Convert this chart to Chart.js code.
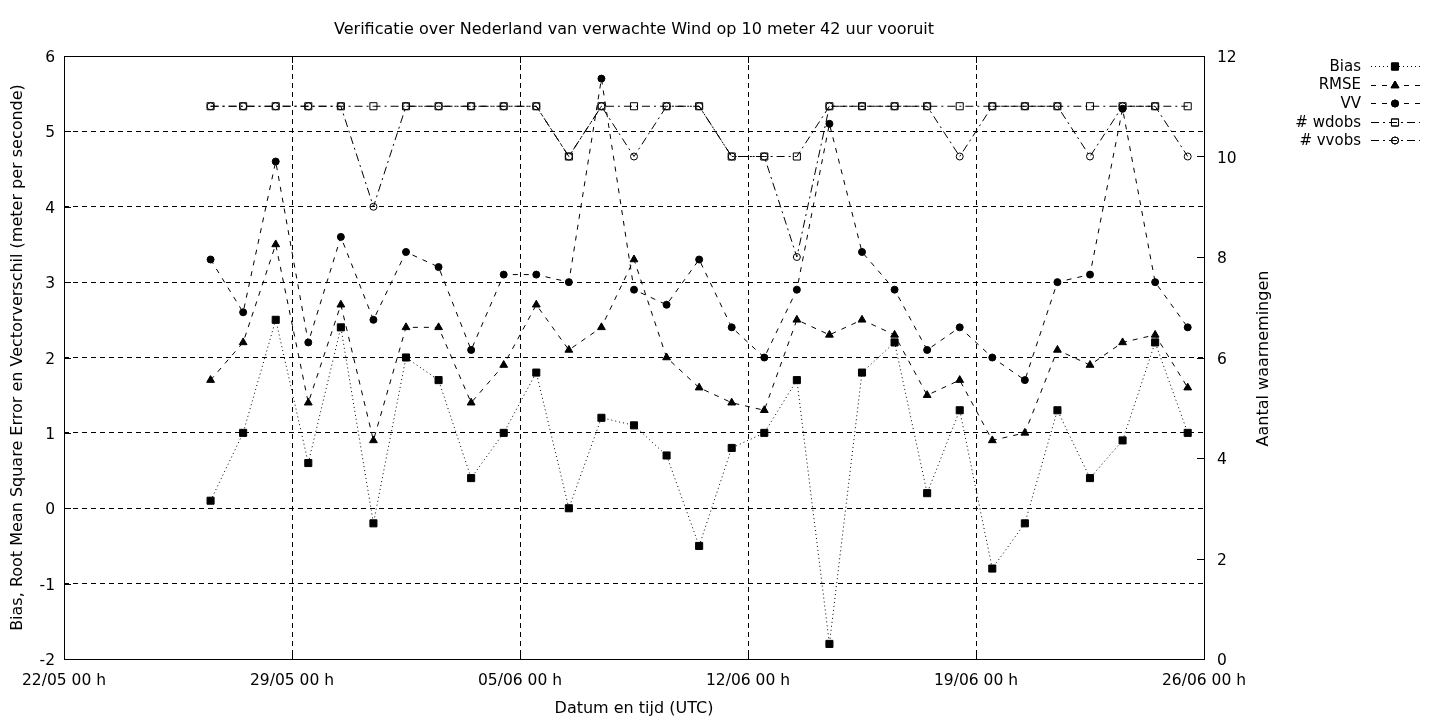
<!DOCTYPE html>
<html>
<head>
<meta charset="utf-8">
<script src="https://cdn.jsdelivr.net/npm/chart.js@4.4.0/dist/chart.umd.min.js"></script>
<style>
  html, body { margin: 0; padding: 0; background: #fff; }
</style>
</head>
<body>
<canvas id="windChart" width="1440" height="720"></canvas>
<script>
// meetmomenten (dd/mm uu), steeds 12 UTC
const times = ['26/05 12', '27/05 12', '28/05 12', '29/05 12', '30/05 12', '31/05 12',
  '01/06 12', '02/06 12', '03/06 12', '04/06 12', '05/06 12', '06/06 12', '07/06 12',
  '08/06 12', '09/06 12', '10/06 12', '11/06 12', '12/06 12', '13/06 12', '14/06 12',
  '15/06 12', '16/06 12', '17/06 12', '18/06 12', '19/06 12', '20/06 12', '21/06 12',
  '22/06 12', '23/06 12', '24/06 12', '25/06 12'];

const bias = [0.1, 1.0, 2.5, 0.6, 2.4, -0.2, 2.0, 1.7, 0.4, 1.0, 1.8, 0.0, 1.2, 1.1, 0.7, -0.5,
  0.8, 1.0, 1.7, -1.8, 1.8, 2.2, 0.2, 1.3, -0.8, -0.2, 1.3, 0.4, 0.9, 2.2, 1.0];
const rmse = [1.7, 2.2, 3.5, 1.4, 2.7, 0.9, 2.4, 2.4, 1.4, 1.9, 2.7, 2.1, 2.4, 3.3, 2.0, 1.6,
  1.4, 1.3, 2.5, 2.3, 2.5, 2.3, 1.5, 1.7, 0.9, 1.0, 2.1, 1.9, 2.2, 2.3, 1.6];
const vv = [3.3, 2.6, 4.6, 2.2, 3.6, 2.5, 3.4, 3.2, 2.1, 3.1, 3.1, 3.0, 5.7, 2.9, 2.7, 3.3,
  2.4, 2.0, 2.9, 5.1, 3.4, 2.9, 2.1, 2.4, 2.0, 1.7, 3.0, 3.1, 5.3, 3.0, 2.4];
const wdobs = [11, 11, 11, 11, 11, 11, 11, 11, 11, 11, 11, 10, 11, 11, 11, 11,
  10, 10, 10, 11, 11, 11, 11, 11, 11, 11, 11, 11, 11, 11, 11];
const vvobs = [11, 11, 11, 11, 11, 9, 11, 11, 11, 11, 11, 10, 11, 10, 11, 11,
  10, 10, 8, 11, 11, 11, 11, 10, 11, 11, 11, 10, 11, 11, 10];

const tickLabels = ['22/05 00 h', '29/05 00 h', '05/06 00 h', '12/06 00 h', '19/06 00 h', '26/06 00 h'];
const startTime = '22/05 00';

const FONT = 'DejaVu Sans';
const YEAR = 2000;

function toDate(s) {
  let d = parseInt(s.substr(0, 2)), m = parseInt(s.substr(3, 2)), h = parseInt(s.substr(6, 2));
  return Date.UTC(YEAR, m - 1, d, h);
}
// uren sinds begin van de x-as
function hours(s) {
  return (toDate(s) - toDate(startTime)) / 3600000;
}
const xMax = (tickLabels.length - 1) * 168;

function series(vals) {
  return vals.map((v, i) => ({ x: hours(times[i]), y: v }));
}

const edgeGrid = (lo, hi) => (ctx) => {
  let v = ctx.tick ? ctx.tick.value : null;
  return (v === lo || v === hi) ? 'rgba(0,0,0,0)' : '#000';
};

const boxAndText = {
  id: 'boxAndText',
  beforeDatasetsDraw(chart) {
    const { ctx, chartArea: a, scales } = chart;
    ctx.save();
    ctx.strokeStyle = '#000';
    ctx.lineWidth = 1;
    ctx.setLineDash([]);
    ctx.strokeRect(a.left + 0.5, a.top + 0.5, a.right - a.left, a.bottom - a.top);
    // tick marks naar binnen
    const tl = 7;
    ctx.beginPath();
    scales.y.ticks.forEach(t => {
      let p = Math.round(scales.y.getPixelForValue(t.value)) + 0.5;
      ctx.moveTo(a.left, p); ctx.lineTo(a.left + tl, p);
    });
    scales.y2.ticks.forEach(t => {
      let p = Math.round(scales.y2.getPixelForValue(t.value)) + 0.5;
      ctx.moveTo(a.right, p); ctx.lineTo(a.right - tl, p);
    });
    scales.x.ticks.forEach(t => {
      let p = Math.round(scales.x.getPixelForValue(t.value)) + 0.5;
      ctx.moveTo(p, a.bottom); ctx.lineTo(p, a.bottom - tl);
      ctx.moveTo(p, a.top); ctx.lineTo(p, a.top + tl);
    });
    ctx.stroke();
    ctx.restore();
  },
  afterDraw(chart) {
    const { ctx, chartArea: a } = chart;
    ctx.save();
    ctx.fillStyle = '#000';
    ctx.font = '16px "' + FONT + '"';
    ctx.textBaseline = 'middle';
    ctx.textAlign = 'center';
    ctx.fillText('Verificatie over Nederland van verwachte Wind op 10 meter 42 uur vooruit', (a.left + a.right) / 2, 30);

    ctx.save();
    ctx.translate(1264, (a.top + a.bottom) / 2 + 1);
    ctx.rotate(-Math.PI / 2);
    ctx.fillText('Aantal waarnemingen', 0, 0);
    ctx.restore();

    // legenda
    ctx.font = '15px "' + FONT + '"';
    chart.data.datasets.forEach((ds, i) => {
      let y = 66 + i * 18.6;
      ctx.textAlign = 'right';
      ctx.fillStyle = '#000';
      ctx.fillText(ds.label, 1361, y + 1);
      ctx.beginPath();
      ctx.setLineDash(ds.borderDash);
      ctx.lineWidth = 1;
      ctx.strokeStyle = '#000';
      ctx.moveTo(1371, Math.round(y) + 0.5);
      ctx.lineTo(1420, Math.round(y) + 0.5);
      ctx.stroke();
      ctx.setLineDash([]);
      ctx.fillStyle = ds.pointBackgroundColor;
      Chart.helpers.drawPoint(ctx, {
        pointStyle: ds.pointStyle, radius: ds.pointRadius, rotation: 0, borderWidth: 1
      }, 1395, Math.round(y) + 0.5);
      ctx.fill();
      ctx.stroke();
    });
    ctx.restore();
  }
};

function line(label, vals, dash, style, radius, filled, axis) {
  return {
    label: label,
    data: series(vals),
    yAxisID: axis,
    borderColor: '#000',
    borderWidth: 1,
    borderDash: dash,
    tension: 0,
    fill: false,
    pointStyle: style,
    pointRadius: radius,
    pointHoverRadius: radius,
    pointBorderWidth: 1,
    pointBorderColor: '#000',
    pointBackgroundColor: filled ? '#000' : 'rgba(0,0,0,0)'
  };
}

new Chart(document.getElementById('windChart'), {
  type: 'line',
  data: {
    datasets: [
      line('Bias', bias, [1, 3], 'rect', 5, true, 'y'),
      line('RMSE', rmse, [5, 6], 'triangle', 4.5, true, 'y'),
      line('VV', vv, [5, 6], 'circle', 3.5, true, 'y'),
      line('# wdobs', wdobs, [8, 4, 2, 4], 'rect', 5, false, 'y2'),
      line('# vvobs', vvobs, [8, 4, 2, 4], 'circle', 3.5, false, 'y2')
    ]
  },
  options: {
    responsive: false,
    animation: false,
    devicePixelRatio: 1,
    layout: { padding: { top: 56, left: 0, right: 0, bottom: 0 } },
    plugins: {
      legend: { display: false },
      tooltip: { enabled: false },
      title: { display: false }
    },
    scales: {
      x: {
        type: 'linear',
        position: 'bottom',
        min: 0,
        max: xMax,
        afterFit: (s) => { s.height = 61; },
        ticks: {
          stepSize: 168,
          autoSkip: false,
          maxRotation: 0,
          padding: 13,
          color: '#000',
          font: { family: FONT, size: 15.5 },
          callback: (v) => tickLabels[Math.round(v / 168)]
        },
        grid: { color: edgeGrid(0, xMax), lineWidth: 1, drawTicks: false },
        border: { display: false, dash: [5, 4] },
        title: {
          display: true,
          text: 'Datum en tijd (UTC)',
          color: '#000',
          font: { family: FONT, size: 16 },
          padding: { top: 0, bottom: 2 }
        }
      },
      y: {
        position: 'left',
        min: -2,
        max: 6,
        afterFit: (s) => { s.width = 64; },
        ticks: {
          stepSize: 1,
          padding: 9,
          labelOffset: 2,
          color: '#000',
          font: { family: FONT, size: 15.5 }
        },
        grid: { color: edgeGrid(-2, 6), lineWidth: 1, drawTicks: false },
        border: { display: false, dash: [5, 4] },
        title: {
          display: true,
          text: 'Bias, Root Mean Square Error en Vectorverschil (meter per seconde)',
          color: '#000',
          font: { family: FONT, size: 16 },
          padding: { top: 8, bottom: 0 }
        }
      },
      y2: {
        position: 'right',
        min: 0,
        max: 12,
        afterFit: (s) => { s.width = 236; },
        ticks: {
          stepSize: 2,
          padding: 13,
          labelOffset: 2,
          color: '#000',
          font: { family: FONT, size: 15.5 }
        },
        grid: { drawOnChartArea: false, drawTicks: false },
        border: { display: false }
      }
    }
  },
  plugins: [boxAndText]
});
</script>
</body>
</html>
